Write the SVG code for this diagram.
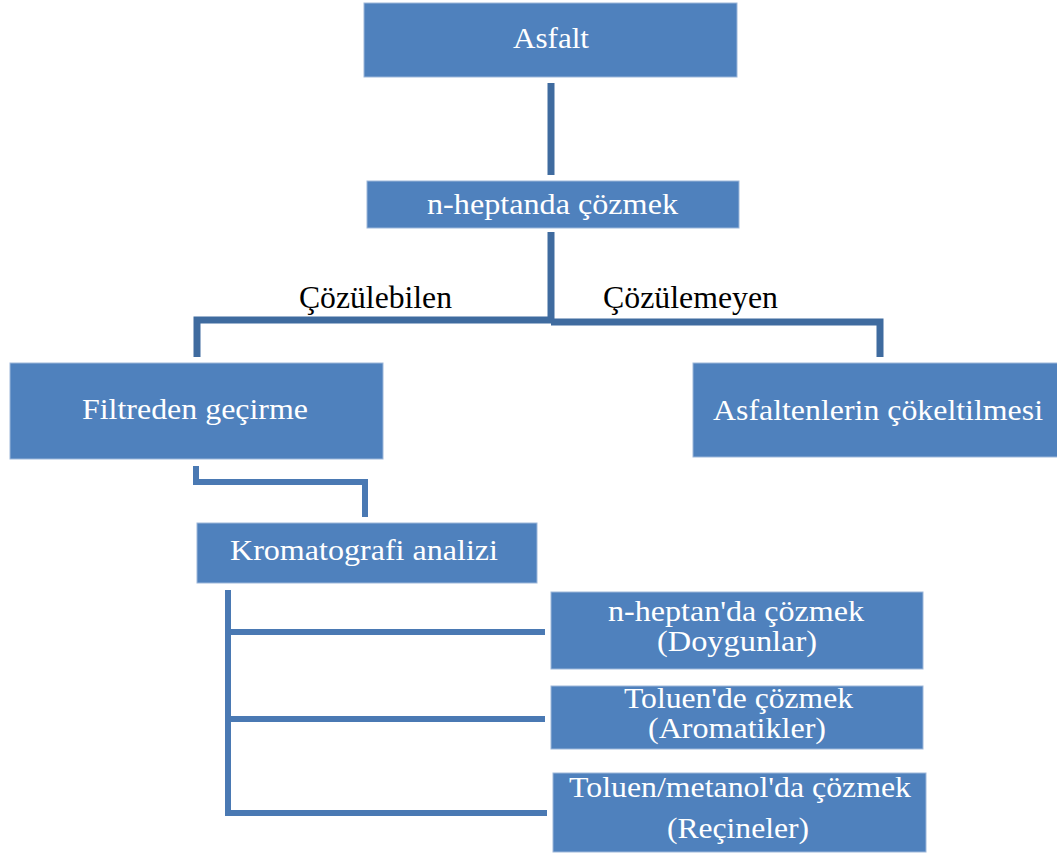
<svg xmlns="http://www.w3.org/2000/svg" width="1057" height="857" viewBox="0 0 1057 857">
<style>
.box{fill:#4F81BD;stroke:#9DB7DA;stroke-width:1}
.t{font-family:"Liberation Serif","Times New Roman",serif;fill:#FFFFFF;font-size:30px;text-anchor:start}
.lbl{font-family:"Liberation Serif","Times New Roman",serif;fill:#000000;font-size:31px}
.c1{fill:none;stroke:#3F6B9F;stroke-width:7}
.c2{fill:none;stroke:#4A79B3;stroke-width:6}
</style>
<rect width="1057" height="857" fill="#FFFFFF"/>
<g id="connectors">
<line class="c1" x1="551" y1="83" x2="551" y2="175"/>
<line class="c1" x1="551" y1="232" x2="551" y2="322"/>
<polyline class="c1" points="197,357 197,320 551,320"/>
<polyline class="c1" points="551,322 880,322 880,357"/>
<polyline class="c2" points="196,466 196,482 365,482 365,517"/>
<line class="c2" x1="228" y1="590" x2="228" y2="816"/>
<line class="c2" x1="228" y1="632" x2="545" y2="632"/>
<line class="c2" x1="228" y1="719" x2="545" y2="719"/>
<line class="c2" x1="225" y1="813" x2="547" y2="813"/>
</g>
<g id="label-cozulebilen"><text class="lbl" x="299" y="308" textLength="153" lengthAdjust="spacingAndGlyphs">Çözülebilen</text></g>
<g id="label-cozulemeyen"><text class="lbl" x="603" y="308" textLength="175" lengthAdjust="spacingAndGlyphs">Çözülemeyen</text></g>
<g id="node-asfalt">
<rect class="box" x="364" y="3" width="373" height="74"/>
<text class="t" x="513" y="48" textLength="76" lengthAdjust="spacingAndGlyphs">Asfalt</text>
</g>
<g id="node-nheptanda">
<rect class="box" x="367" y="181" width="372" height="47"/>
<text class="t" x="427" y="214" textLength="251" lengthAdjust="spacingAndGlyphs">n-heptanda çözmek</text>
</g>
<g id="node-filtreden">
<rect class="box" x="10" y="363" width="373" height="96"/>
<text class="t" x="82" y="419" textLength="226" lengthAdjust="spacingAndGlyphs">Filtreden geçirme</text>
</g>
<g id="node-asfaltenler">
<rect class="box" x="693" y="363" width="370" height="94"/>
<text class="t" x="713" y="420" textLength="330" lengthAdjust="spacingAndGlyphs">Asfaltenlerin çökeltilmesi</text>
</g>
<g id="node-kromatografi">
<rect class="box" x="197" y="523" width="340" height="60"/>
<text class="t" x="230" y="560" textLength="268" lengthAdjust="spacingAndGlyphs">Kromatografi analizi</text>
</g>
<g id="node-doygunlar">
<rect class="box" x="551" y="592" width="372" height="77"/>
<text class="t" x="608" y="621" textLength="256" lengthAdjust="spacingAndGlyphs">n-heptan'da çözmek</text>
<text class="t" x="657" y="651" textLength="160" lengthAdjust="spacingAndGlyphs">(Doygunlar)</text>
</g>
<g id="node-aromatikler">
<rect class="box" x="551" y="686" width="372" height="63"/>
<text class="t" x="624" y="708" textLength="229" lengthAdjust="spacingAndGlyphs">Toluen'de çözmek</text>
<text class="t" x="648" y="738" textLength="178" lengthAdjust="spacingAndGlyphs">(Aromatikler)</text>
</g>
<g id="node-recineler">
<rect class="box" x="553" y="773" width="373" height="79"/>
<text class="t" x="569" y="797" textLength="342" lengthAdjust="spacingAndGlyphs">Toluen/metanol'da çözmek</text>
<text class="t" x="667" y="838" textLength="142" lengthAdjust="spacingAndGlyphs">(Reçineler)</text>
</g>
</svg>
